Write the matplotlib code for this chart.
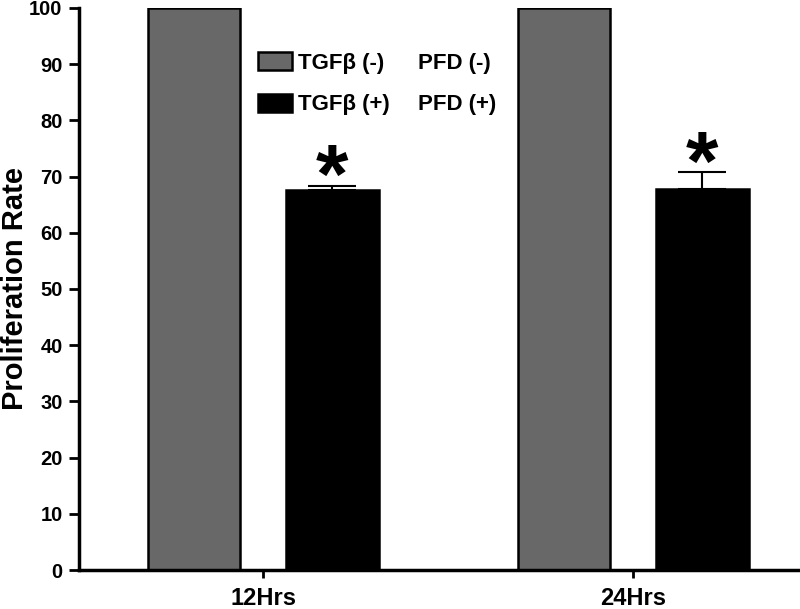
import matplotlib
matplotlib.use("Agg")
from matplotlib import pyplot as plt
import numpy as np

plt.rcParams['font.family'] = ['Liberation Sans', 'DejaVu Sans']
plt.rcParams['font.weight'] = 'bold'

groups = ['12Hrs', '24Hrs']
control = [100, 100]
treated = [67.6, 67.7]
treated_err = [0.8, 3.1]
tgf_labels = ['TGF\u03b2 (-)', 'TGF\u03b2 (+)']
pfd_labels = ['PFD (-)', 'PFD (+)']

fig = plt.figure(figsize=(8, 6.09), dpi=100)
ax = fig.add_axes([0.099, 0.064, 0.901, 0.923])

x = np.arange(len(groups))
w = 0.25
off = 0.187

ax.bar(x - off, control, w, color='#686868', edgecolor='black', linewidth=1.8,
       label=tgf_labels[0])
ax.bar(x + off, treated, w, color='black', edgecolor='black', linewidth=1.8,
       label=tgf_labels[1])
ax.errorbar(x + off, treated, yerr=[np.zeros(2), treated_err], fmt='none',
            ecolor='black', elinewidth=1.5, capsize=17.5, capthick=1.5)

# significance stars
for xi, t, e in zip(x + off, treated, treated_err):
    ax.text(xi, t + e - 3.1, '*', ha='center', va='baseline', fontsize=60,
            fontweight='bold')

ax.set_xlim(-0.497, 1.451)
ax.set_ylim(0, 100)
ax.set_yticks(range(0, 101, 10))
ax.set_xticks(x)
ax.set_xticklabels(groups, fontsize=17, fontweight='bold')
ax.tick_params(axis='y', labelsize=14.5, width=2, length=7, pad=5)
ax.tick_params(axis='x', width=2, length=6, pad=6)
for t in ax.get_yticklabels():
    t.set_fontweight('bold')
ax.set_ylabel('Proliferation Rate', fontsize=21, fontweight='bold')
ax.yaxis.set_label_coords(-0.069, 0.5)

ax.spines['top'].set_visible(False)
ax.spines['right'].set_visible(False)
ax.spines['left'].set_linewidth(2.5)
ax.spines['bottom'].set_linewidth(2.5)

leg = ax.legend(loc='upper left', bbox_to_anchor=(0.236, 0.938), frameon=False,
                prop={'size': 16, 'weight': 'bold'}, handlelength=1.5,
                handleheight=0.9, handletextpad=0.3, labelspacing=0.9,
                borderaxespad=0)

# second column of the legend (PFD state)
fig.canvas.draw()
r = fig.canvas.get_renderer()
for txt, lab in zip(leg.get_texts(), pfd_labels):
    bb = txt.get_window_extent(r)
    fig.text(418 / 800, (bb.y0 + bb.y1) / 2 / fig.bbox.height, lab,
             fontsize=16, fontweight='bold', va='center', ha='left')

fig.savefig('out.png', dpi=100)
